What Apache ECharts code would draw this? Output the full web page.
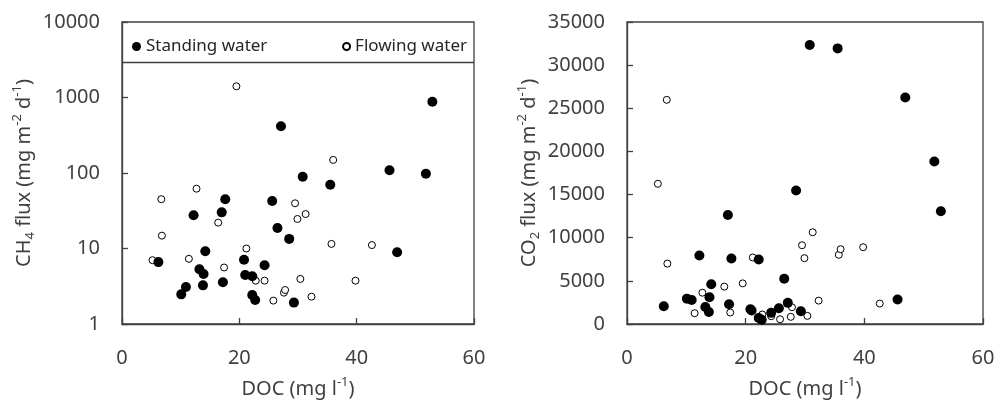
<!DOCTYPE html>
<html>
<head>
<meta charset="utf-8">
<script src="https://cdn.jsdelivr.net/npm/echarts@6/dist/echarts.min.js"></script>
<style>
html,body{margin:0;padding:0;background:#fff;}
#main{width:995px;height:400px;}
</style>
</head>
<body>
<div id="main"></div>
<script>
// standing water (DOC, CH4, CO2)
var docStanding = [6.2, 10.1, 10.9, 12.2, 13.2, 13.8, 13.9, 14.2, 17.0, 17.2, 17.6, 20.8, 21.0, 22.2, 22.2, 22.7, 24.3, 25.6, 26.5, 27.1, 28.5, 29.3, 30.8, 35.5, 45.6, 46.9, 51.8, 52.9];
var ch4Standing = [6.6, 2.47, 3.09, 27.5, 5.3, 3.25, 4.6, 9.2, 30.1, 3.57, 45, 7.1, 4.46, 4.3, 2.42, 2.08, 6.0, 42.6, 18.7, 415, 13.4, 1.92, 89, 70, 109, 8.9, 98, 880];
var co2Standing = [2060, 2940, 2790, 7940, 1980, 1400, 3100, 4600, 12630, 2290, 7600, 1710, 1560, 7480, 700, 500, 1290, 1820, 5250, 2450, 15480, 1480, 32330, 31940, 2830, 26250, 18830, 13060];

// flowing water (DOC, CH4, CO2)
var docFlowing = [5.2, 6.7, 6.8, 11.4, 12.7, 16.4, 17.4, 19.5, 21.2, 22.8, 24.3, 25.8, 27.6, 27.8, 29.5, 29.9, 30.4, 31.3, 32.3, 35.7, 36.0, 39.8, 42.6];
var ch4Flowing = [7.0, 45, 14.8, 7.3, 62, 22, 5.6, 1407, 10, 3.75, 3.75, 2.04, 2.6, 2.82, 39.7, 24.6, 3.95, 28.6, 2.3, 11.5, 149, 3.75, 11.1];
var co2Flowing = [16250, 25980, 7000, 1250, 3630, 4330, 1330, 4710, 7710, 1100, 900, 550, 830, 1940, 9130, 7630, 940, 10630, 2710, 8020, 8670, 8900, 2370];

var legendSep = 2950;   // line under the legend

var fontFamily = "'Noto Sans', 'Open Sans', sans-serif";
var textColor = '#404040';
var axisColor = '#404040';

function pts(xs, ys){
	var out = [];
	for (var i = 0; i < xs.length; i++) {
		out.push([xs[i], ys[i]]);
	}
	return out;
}

var rich = {
	sup: {fontSize: 13, lineHeight: 13, verticalAlign: 'top', fontFamily: fontFamily, color: textColor},
	sub: {fontSize: 13, lineHeight: 13, verticalAlign: 'bottom', fontFamily: fontFamily, color: textColor}
};
var nameStyle = {fontSize: 20, lineHeight: 26, fontFamily: fontFamily, color: textColor, rich: rich};

function xAxisOpt(idx){
	return {
		type: 'value', gridIndex: idx, min: 0, max: 60, interval: 20,
		name: 'DOC (mg l{sup|-1})', nameLocation: 'middle', nameGap: 52,
		nameTextStyle: nameStyle,
		axisLine: {show: true, lineStyle: {color: axisColor, width: 1.3}},
		axisTick: {show: true, inside: true, length: 6, lineStyle: {color: axisColor, width: 1.3}},
		axisLabel: {margin: 24, fontSize: 20, color: textColor, fontFamily: fontFamily},
		splitLine: {show: false}
	};
}

function yAxisOpt(idx, name){
	var o = {
		gridIndex: idx, name: name, nameLocation: 'middle', nameGap: 85,
		nameTextStyle: nameStyle,
		axisLine: {show: true, lineStyle: {color: axisColor, width: 1.3}},
		axisTick: {show: true, inside: true, length: 6, lineStyle: {color: axisColor, width: 1.3}},
		axisLabel: {margin: 22, fontSize: 20, color: textColor, fontFamily: fontFamily,
			formatter: function(v){ return String(Math.round(v)); }},
		splitLine: {show: false}
	};
	return o;
}

var yLeft = yAxisOpt(0, 'CH{sub|4} flux (mg m{sup|-2} d{sup|-1})');
yLeft.type = 'log'; yLeft.logBase = 10; yLeft.min = 1; yLeft.max = 10000; yLeft.splitNumber = 4;
var yRight = yAxisOpt(1, 'CO{sub|2} flux (mg m{sup|-2} d{sup|-1})');
yRight.type = 'value'; yRight.min = 0; yRight.max = 35000; yRight.interval = 5000;

var openStyle = {color: '#fff', borderColor: '#000', borderWidth: 1, opacity: 1};
var fillStyle = {color: '#000', opacity: 1};

var option = {
	animation: false,
	grid: [
		{left: 122, top: 22, width: 352, height: 302, show: true, borderColor: axisColor, borderWidth: 1.3,
			containLabel: false, outerBoundsMode: 'none'},
		{left: 627, top: 22, width: 356, height: 302, show: true, borderColor: axisColor, borderWidth: 1.3,
			containLabel: false, outerBoundsMode: 'none'}
	],
	legend: [
		{data: ['Standing water'], left: 127, top: 33, icon: 'circle', itemWidth: 9, itemHeight: 9, itemGap: 5,
			textStyle: {fontSize: 17, fontFamily: fontFamily, color: '#262626'}},
		{data: ['Flowing water'], right: 523, top: 33, icon: 'circle', itemWidth: 7, itemHeight: 7, itemGap: 5,
			textStyle: {fontSize: 17, fontFamily: fontFamily, color: '#262626'}}
	],
	xAxis: [xAxisOpt(0), xAxisOpt(1)],
	yAxis: [yLeft, yRight],
	series: [
		{name: 'Flowing water', type: 'scatter', xAxisIndex: 0, yAxisIndex: 0, symbolSize: 7,
			itemStyle: openStyle, data: pts(docFlowing, ch4Flowing),
			markLine: {silent: true, symbol: 'none', label: {show: false},
				lineStyle: {color: axisColor, width: 1.3, type: 'solid'}, data: [{yAxis: legendSep}]}},
		{name: 'Standing water', type: 'scatter', xAxisIndex: 0, yAxisIndex: 0, symbolSize: 10,
			itemStyle: fillStyle, data: pts(docStanding, ch4Standing)},
		{name: 'Flowing water', type: 'scatter', xAxisIndex: 1, yAxisIndex: 1, symbolSize: 7,
			itemStyle: openStyle, data: pts(docFlowing, co2Flowing)},
		{name: 'Standing water', type: 'scatter', xAxisIndex: 1, yAxisIndex: 1, symbolSize: 10,
			itemStyle: fillStyle, data: pts(docStanding, co2Standing)}
	]
};

echarts.init(document.getElementById('main')).setOption(option);
</script>
</body>
</html>
